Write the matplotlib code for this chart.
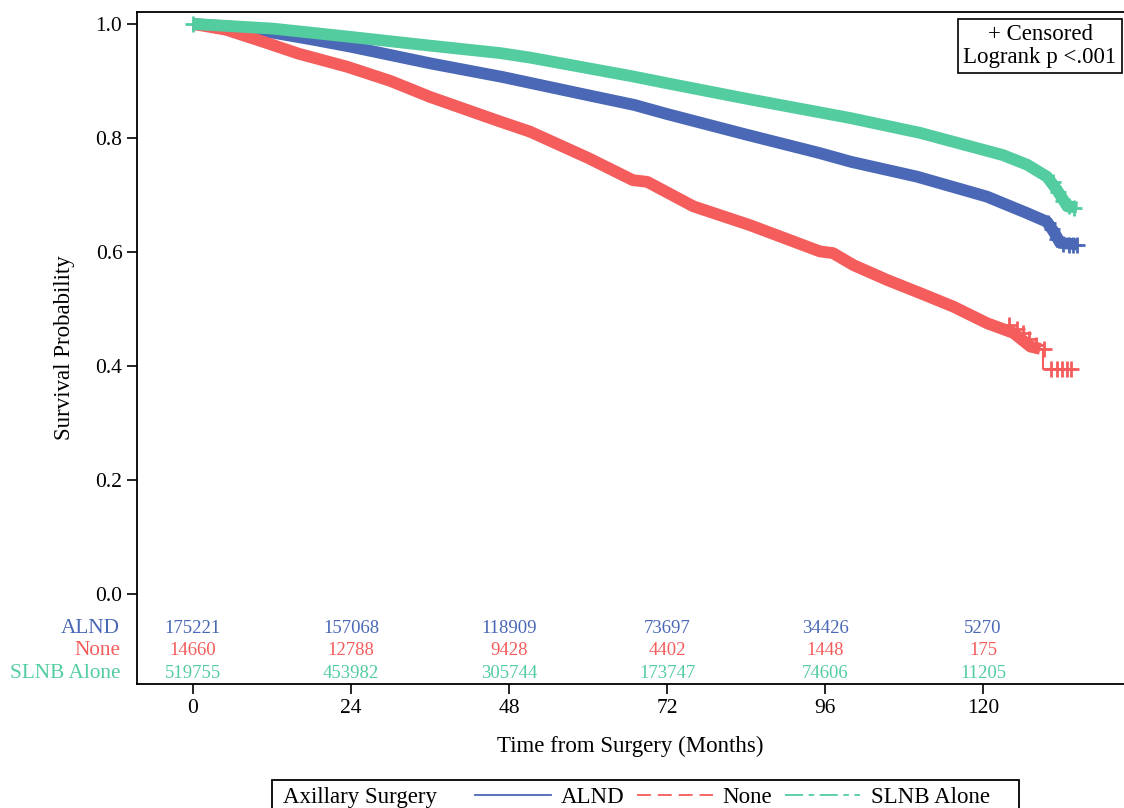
import matplotlib
matplotlib.use('Agg')
import matplotlib.pyplot as plt
from matplotlib.lines import Line2D
from matplotlib.patches import Rectangle

plt.rcParams['font.family'] = ['Liberation Serif', 'DejaVu Serif']
plt.rcParams['lines.scale_dashes'] = False

# --- данные ---
groups = ['ALND', 'None', 'SLNB Alone']
colors = ['#4A68B6', '#F55C5C', '#53CDA0']

alnd_t = [0, 6, 12, 18, 24, 36, 47, 60, 67, 72, 84, 95, 100, 110, 120.6,
          126.7, 129.7, 130.7, 131.7, 134.4]
alnd_s = [1.0, 0.995, 0.985, 0.973, 0.960, 0.931, 0.907, 0.875, 0.858,
          0.842, 0.806, 0.774, 0.758, 0.732, 0.697, 0.668, 0.653, 0.636,
          0.616, 0.613]

none_t = [0, 5, 10.6, 16, 23.4, 30, 36, 46.6, 51.2, 60, 66.8, 69, 76,
          84.6, 95.2, 97.2, 100.3, 105.4, 110.4, 115.5, 120.6, 124.6,
          127.2, 128.7]
none_s = [1.0, 0.99, 0.969, 0.948, 0.925, 0.90, 0.872, 0.829, 0.811,
          0.765, 0.726, 0.723, 0.68, 0.647, 0.601, 0.598, 0.577, 0.551,
          0.528, 0.504, 0.475, 0.458, 0.434, 0.43]
# хвост после последнего события (тонкая линия)
none_tail_t = [128.7, 129.1, 129.1, 133.7]
none_tail_s = [0.43, 0.43, 0.394, 0.394]

slnb_t = [0, 12, 23.4, 36, 46.6, 51.2, 66.8, 72, 84, 99.8, 110.4, 123,
          126.7, 129.7, 131.2, 132.8, 134.3]
slnb_s = [1.0, 0.992, 0.978, 0.962, 0.949, 0.941, 0.908, 0.896, 0.869,
          0.835, 0.809, 0.770, 0.753, 0.732, 0.709, 0.68, 0.678]

# цензурированные наблюдения в конце
cens_t = [
    [129.9, 130.5, 131.2, 132.2, 133.0, 133.6, 134.2],
    [124.0, 125.2, 126.0, 127.0, 128.0, 129.3, 130.3, 131.2, 132.0, 132.8,
     133.4],
    [0, 130.6, 131.4, 132.2, 133.0, 133.8],
]
cens_s = [
    [0.650, 0.640, 0.622, 0.614, 0.613, 0.613, 0.613],
    [0.472, 0.465, 0.457, 0.448, 0.436, 0.430, 0.394, 0.394, 0.394, 0.394,
     0.394],
    [1.0, 0.722, 0.705, 0.690, 0.680, 0.678],
]

risk_times = [0, 24, 48, 72, 96, 120]
risk_alnd = [175221, 157068, 118909, 73697, 34426, 5270]
risk_none = [14660, 12788, 9428, 4402, 1448, 175]
risk_slnb = [519755, 453982, 305744, 173747, 74606, 11205]

# --- график ---
fig = plt.figure(figsize=(11.24, 8.08), dpi=100)
ax = fig.add_axes([137 / 1124, 1 - 684 / 808, 1 - 137 / 1124, 672 / 808])

curves = [(alnd_t, alnd_s), (none_t, none_s), (slnb_t, slnb_s)]
for (t, s), c in zip(curves, colors):
    ax.plot(t, s, color=c, lw=8.5, solid_capstyle='butt',
            solid_joinstyle='round')
ax.plot(none_tail_t, none_tail_s, color=colors[1], lw=1.5)
for ct, cs, c in zip(cens_t, cens_s, colors):
    ax.plot(ct, cs, '+', color=c, ms=11, mew=2, ls='none')

ax.set_xlim(-8.5, 141.4)
ax.set_ylim(-0.158, 1.021)
ax.set_xticks(risk_times)
ax.set_yticks([0, 0.2, 0.4, 0.6, 0.8, 1.0])
ax.set_yticklabels([f'{v:.1f}' for v in ax.get_yticks()])
ax.tick_params(labelsize=15.5, length=7, width=1.2, colors='black')
ax.spines['right'].set_visible(False)
for sp in ['left', 'bottom', 'top']:
    ax.spines[sp].set_linewidth(1.3)

ax.set_xlabel('Time from Surgery (Months)', fontsize=16.5, labelpad=13)
ax.set_ylabel('Survival Probability', fontsize=16.5, labelpad=15)

# таблица числа под риском
rows = [risk_alnd, risk_none, risk_slnb]
row_y = [-0.06, -0.10, -0.14]
ytr = ax.get_yaxis_transform()
for name, vals, y, c in zip(groups, rows, row_y, colors):
    ax.text(-0.017, y, name, transform=ytr, ha='right', va='center',
            fontsize=15.3, color=c)
    for t, v in zip(risk_times, vals):
        ax.text(t, y, str(v), ha='center', va='center', fontsize=13.5,
                color=c)

# вставка
fig.text(1040 / 1124, 1 - 46 / 808, '+ Censored\nLogrank p <.001',
         ha='center', va='center', fontsize=16.5, linespacing=1.12,
         multialignment='center',
         bbox=dict(boxstyle='square,pad=0.22', fc='white', ec='black',
                   lw=1.2))

# легенда
handles = [
    Line2D([], [], color=colors[0], lw=1.3),
    Line2D([], [], color=colors[1], lw=1.3, ls=(0, (10, 5))),
    Line2D([], [], color=colors[2], lw=1.3, ls=(0, (13, 4, 4, 4))),
]
fig.legend(handles, groups, ncol=3, frameon=False, fontsize=16.5,
           handlelength=3.3, handletextpad=0.44, columnspacing=0.55,
           loc='center left', bbox_to_anchor=(475 / 1124, 1 - 797 / 808),
           borderaxespad=0, borderpad=0)
fig.text(283 / 1124, 1 - 797 / 808, 'Axillary Surgery', fontsize=16.5,
         ha='left', va='center')
fig.patches.append(Rectangle((272 / 1124, -0.02), 747 / 1124,
                             0.02 + 28 / 808, transform=fig.transFigure,
                             fill=False, ec='black', lw=1.3))

fig.savefig('out.png', dpi=100)
